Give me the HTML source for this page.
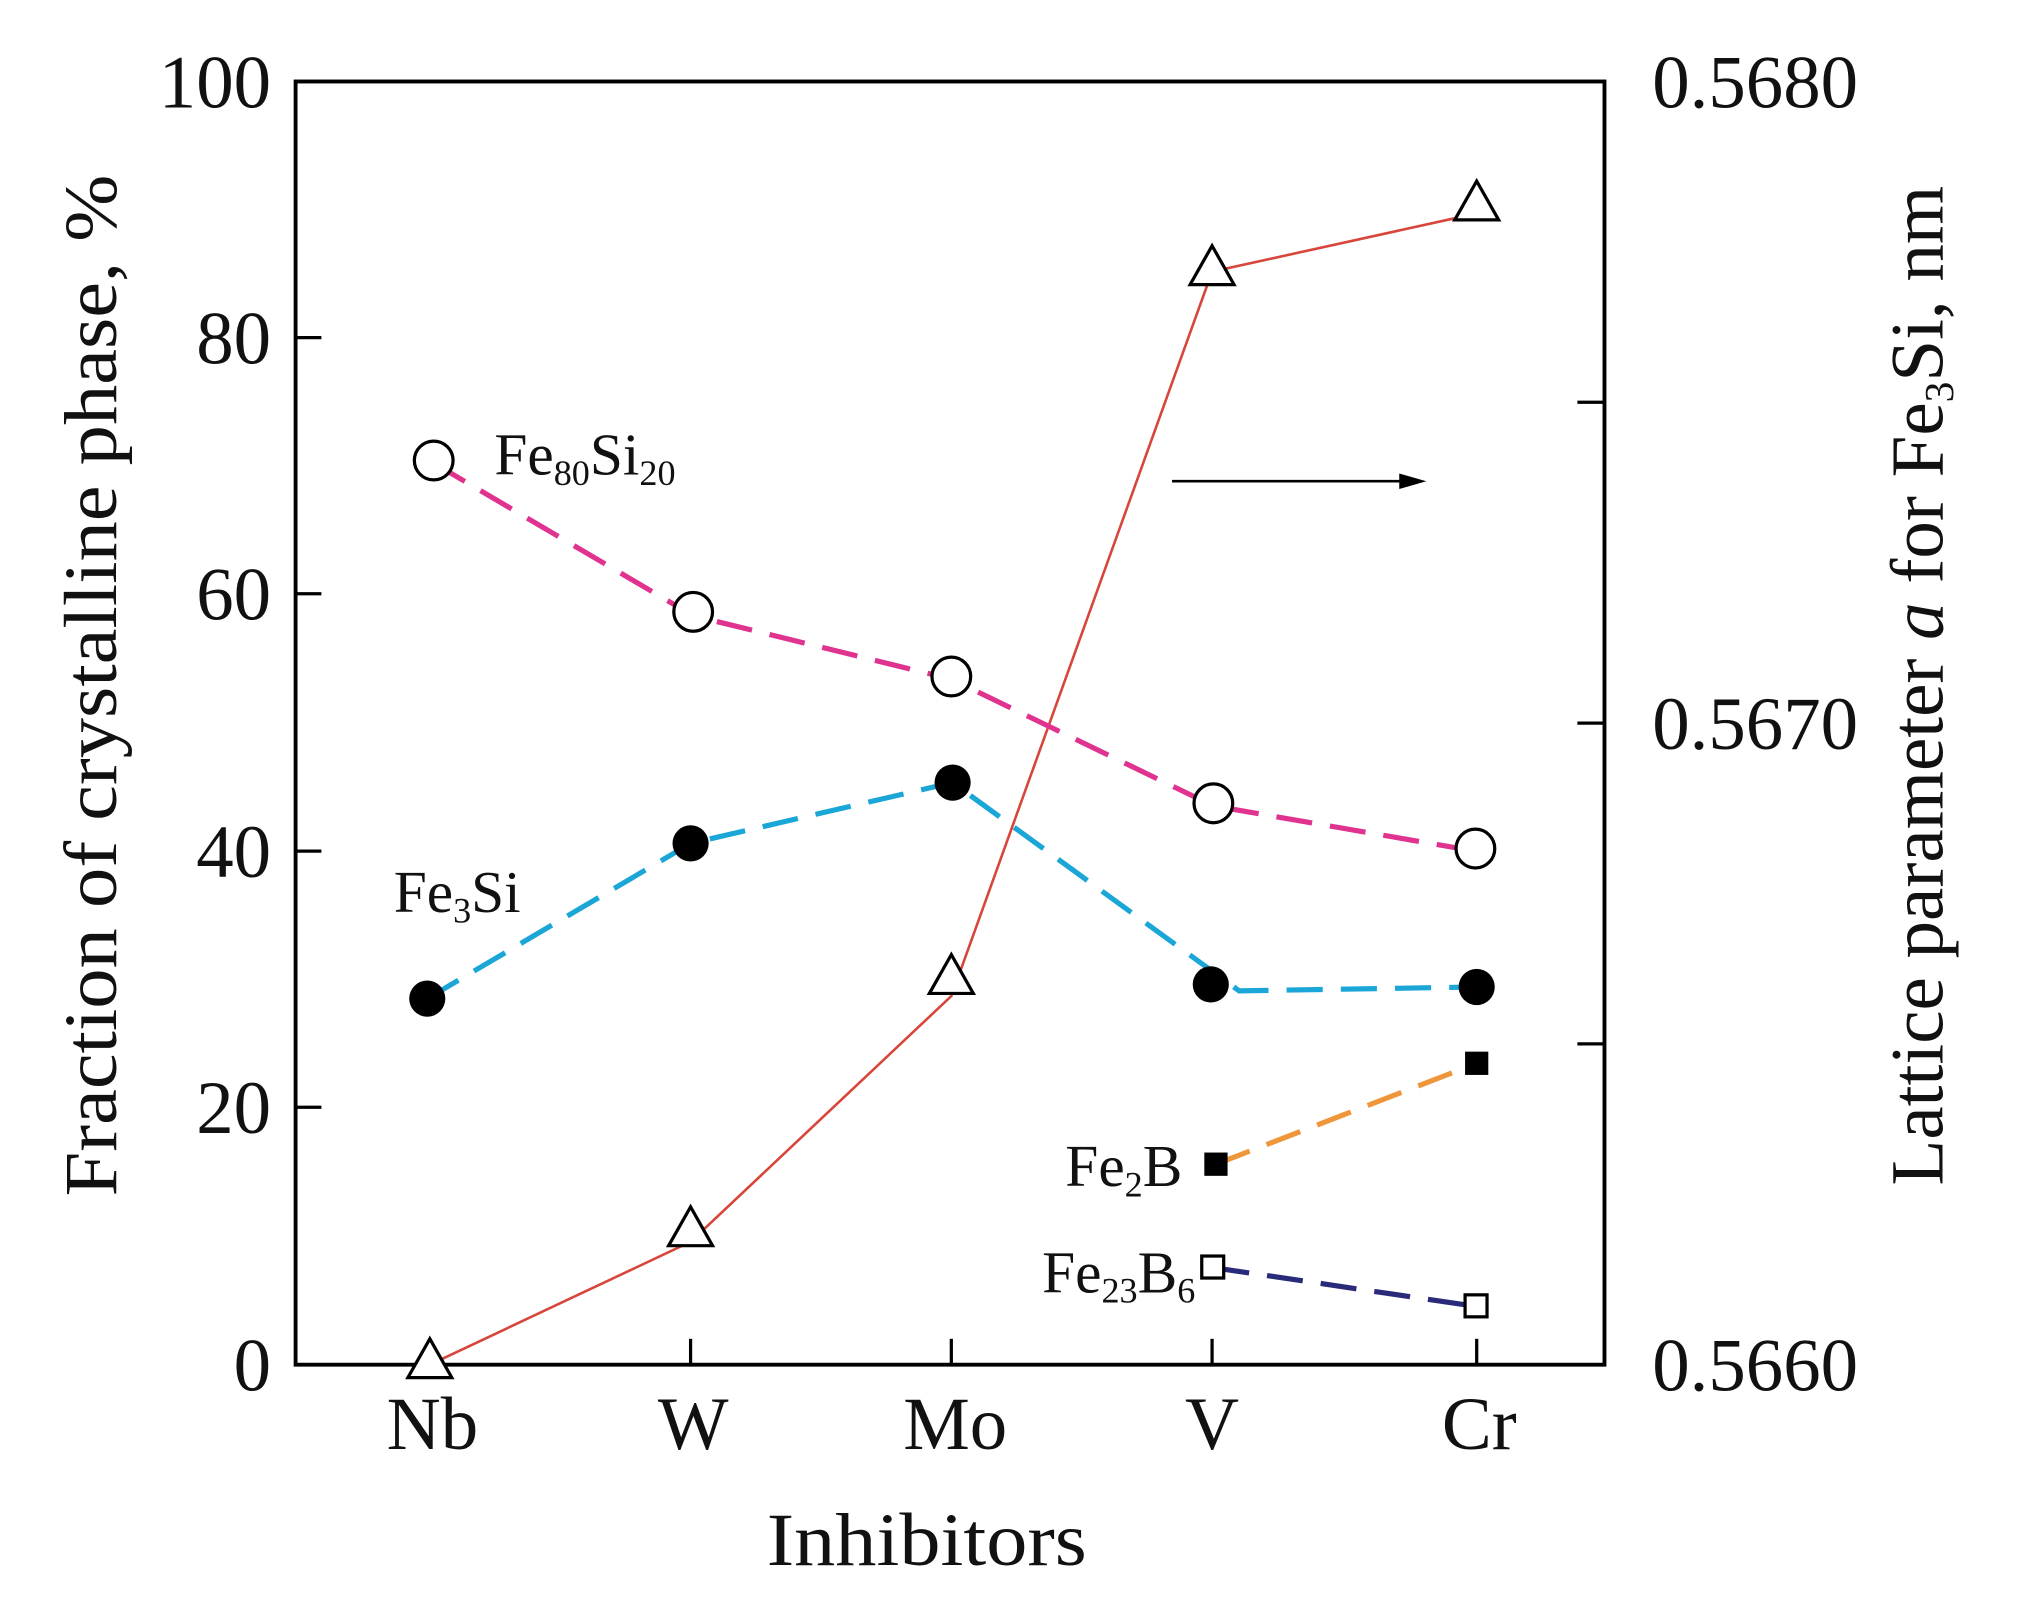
<!DOCTYPE html>
<html><head><meta charset="utf-8"><style>html,body{margin:0;padding:0;background:#fff}svg{display:block}</style></head>
<body>
<svg width="2024" height="1604" viewBox="0 0 1568 1240" preserveAspectRatio="none" xmlns="http://www.w3.org/2000/svg" font-family="Liberation Serif, serif">
<rect width="1568" height="1240" fill="#fff"/>
<rect x="229" y="63" width="1014" height="992" fill="none" stroke="#000" stroke-width="3"/>
<g stroke="#000" stroke-width="2.5">
<line x1="229" y1="261" x2="249" y2="261"/><line x1="229" y1="459" x2="249" y2="459"/><line x1="229" y1="658" x2="249" y2="658"/><line x1="229" y1="856" x2="249" y2="856"/>
<line x1="1243" y1="311" x2="1222" y2="311"/><line x1="1243" y1="559" x2="1222" y2="559"/><line x1="1243" y1="807" x2="1222" y2="807"/>
<line x1="333" y1="1055" x2="333" y2="1035"/><line x1="535" y1="1055" x2="535" y2="1035"/><line x1="737" y1="1055" x2="737" y2="1035"/><line x1="939" y1="1055" x2="939" y2="1035"/><line x1="1144" y1="1055" x2="1144" y2="1035"/>
</g>
<g font-size="58" text-anchor="end" fill="#111">
<text x="210" y="83">100</text><text x="210" y="281">80</text><text x="210" y="479">60</text><text x="210" y="678">40</text><text x="210" y="876">20</text><text x="210" y="1075">0</text>
</g>
<g font-size="58" fill="#111">
<text x="1280" y="83">0.5680</text><text x="1280" y="579">0.5670</text><text x="1280" y="1075">0.5660</text>
</g>
<g font-size="58" text-anchor="middle" fill="#111">
<text x="335" y="1120">Nb</text><text x="537" y="1120">W</text><text x="740" y="1120">Mo</text><text x="939" y="1120">V</text><text x="1146" y="1120">Cr</text>
<text x="718" y="1210" textLength="248" lengthAdjust="spacingAndGlyphs">Inhibitors</text>
<text transform="translate(90,530) rotate(-90)" textLength="790" lengthAdjust="spacingAndGlyphs">Fraction of crystalline phase, %</text>
<text transform="translate(1505,530) rotate(-90)">Lattice parameter <tspan font-style="italic">a</tspan> for Fe<tspan font-size="32" dy="8">3</tspan><tspan dy="-8">Si, nm</tspan></text>
</g>
<polyline points="333,1055 535,960 737,770 939,210 1144,165" fill="none" stroke="#d8453a" stroke-width="2"/>
<polyline points="336,358 537,476 737,525 940,623 1143,658" fill="none" stroke="#e0338f" stroke-width="4" stroke-dasharray="28,14"/>
<polyline points="331,772 535,652 738,605 960,766 1144,763" fill="none" stroke="#1aa6d6" stroke-width="4" stroke-dasharray="28,14"/>
<polyline points="942,900 1144,822" fill="none" stroke="#f0963a" stroke-width="4" stroke-dasharray="28,14"/>
<polyline points="940,980 1144,1010" fill="none" stroke="#2a2a7a" stroke-width="4" stroke-dasharray="28,14"/>
<g fill="#fff" stroke="#000" stroke-width="2.5">
<polygon points="333,1035 316,1065 350,1065"/><polygon points="535,933 518,963 552,963"/><polygon points="737,738 720,768 754,768"/><polygon points="939,190 922,220 956,220"/><polygon points="1144,140 1127,170 1161,170"/>
<circle cx="336" cy="356" r="15"/><circle cx="537" cy="473" r="15"/><circle cx="737" cy="523" r="15"/><circle cx="940" cy="621" r="15"/><circle cx="1143" cy="656" r="15"/>
<rect x="931" y="971" width="17" height="17"/><rect x="1135" y="1001" width="17" height="17"/>
</g>
<g fill="#000">
<circle cx="331" cy="772" r="14"/><circle cx="535" cy="652" r="14"/><circle cx="738" cy="605" r="14"/><circle cx="938" cy="761" r="14"/><circle cx="1144" cy="763" r="14"/>
<rect x="933" y="891" width="18" height="18"/><rect x="1135" y="813" width="18" height="18"/>
</g>
<line x1="908" y1="372" x2="1090" y2="372" stroke="#000" stroke-width="2"/>
<polygon points="1105,372 1084,366 1084,378" fill="#000"/>
<g font-size="46" fill="#111">
<text x="383" y="367">Fe<tspan font-size="28" dy="8">80</tspan><tspan dy="-8">Si</tspan><tspan font-size="28" dy="8">20</tspan></text>
<text x="305" y="705">Fe<tspan font-size="28" dy="8">3</tspan><tspan dy="-8">Si</tspan></text>
<text x="916" y="917" text-anchor="end">Fe<tspan font-size="28" dy="8">2</tspan><tspan dy="-8">B</tspan></text>
<text x="926" y="999" text-anchor="end">Fe<tspan font-size="28" dy="8">23</tspan><tspan dy="-8">B</tspan><tspan font-size="28" dy="8">6</tspan></text>
</g>
</svg>
</body></html>
